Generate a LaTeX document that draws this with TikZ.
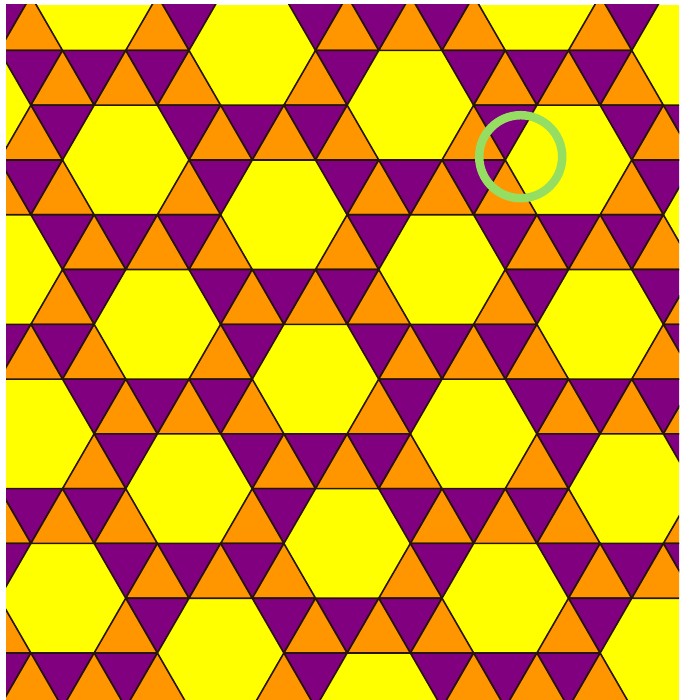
\documentclass[tikz,border=0pt]{standalone}
\usetikzlibrary{calc}
\definecolor{hexyellow}{RGB}{255,255,0}
\definecolor{triorange}{RGB}{255,150,0}
\definecolor{tripurple}{RGB}{128,0,128}
\definecolor{edgecol}{RGB}{40,20,10}
\definecolor{ringgreen}{RGB}{150,222,98}
\tikzset{
  uptri/.style={fill=triorange,draw=edgecol,line width=1.6pt,line join=round},
  downtri/.style={fill=tripurple,draw=edgecol,line width=1.6pt,line join=round},
  ring/.style={draw=ringgreen,line width=8.5pt}
}
\begin{document}
\begin{tikzpicture}[x=1pt,y=-1pt]
\useasboundingbox (0,0) rectangle (679,700);
\fill[white] (0,0) rectangle (679,700);
\begin{scope}
\clip (6,5) rectangle (679,700);
\fill[hexyellow] (6,5) rectangle (679,700);
\foreach \k in {-1,...,13}{
  \foreach \i in {-8,...,12}{
    \pgfmathtruncatemacro{\pa}{mod(\i-2*\k+74,7)}
    \pgfmathtruncatemacro{\pb}{mod(\i+1-2*\k+74,7)}
    \pgfmathtruncatemacro{\pc}{mod(\i+3-2*\k+74,7)}
    \pgfmathtruncatemacro{\pd}{mod(\i-2-2*\k+74,7)}
    \pgfmathtruncatemacro{\up}{\pa*\pb*\pc}
    \pgfmathtruncatemacro{\dn}{\pa*\pb*\pd}
    \ifnum\up>0
      \path[uptri] ({62.5+(\i+\k/2)*63.25},{50.4+\k*54.78})
        -- ({62.5+(\i+1+\k/2)*63.25},{50.4+\k*54.78})
        -- ({62.5+(\i+1+(\k-1)/2)*63.25},{50.4+(\k-1)*54.78}) -- cycle;
    \fi
    \ifnum\dn>0
      \path[downtri] ({62.5+(\i+\k/2)*63.25},{50.4+\k*54.78})
        -- ({62.5+(\i+1+\k/2)*63.25},{50.4+\k*54.78})
        -- ({62.5+(\i+(\k+1)/2)*63.25},{50.4+(\k+1)*54.78}) -- cycle;
    \fi
  }
}
\end{scope}
\coordinate (ringc) at (520.7,156.7);
\draw[ring] (ringc) circle[radius=41.5];
\end{tikzpicture}
\end{document}
